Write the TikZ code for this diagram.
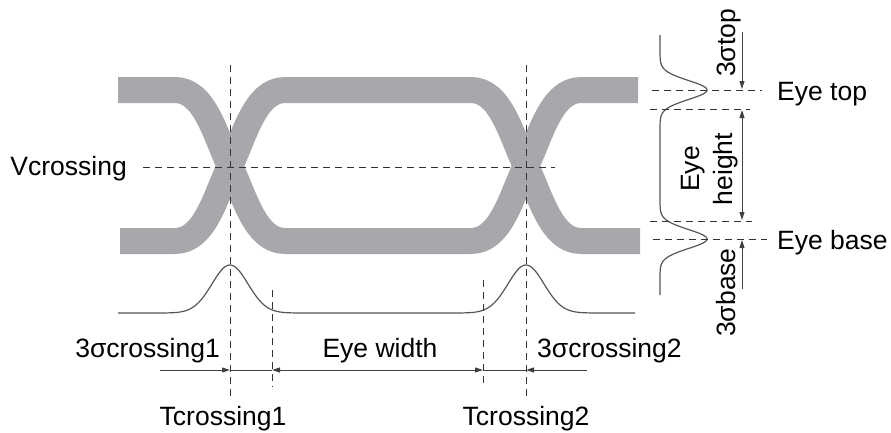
\documentclass[tikz,border=0pt]{standalone}
\usepackage{fontspec}
\setmainfont{Liberation Sans}
\usetikzlibrary{arrows.meta}
\definecolor{bandgray}{HTML}{A7A8AB}
\definecolor{curvegray}{HTML}{555555}
\definecolor{dimgray}{HTML}{404040}
\begin{document}
\begin{tikzpicture}[x=1pt,y=-1pt,
  band/.style={line width=26pt, draw=bandgray, line join=round},
  dist/.style={line width=1.2pt, draw=curvegray},
  dsh/.style={dash pattern=on 7pt off 5pt, line width=1pt, draw=black!80},
  dimline/.style={line width=1pt, draw=dimgray},
  dimarrow/.style={dimline, -{Triangle[length=8pt,width=5pt]}},
  dimboth/.style={dimline, {Triangle[length=8pt,width=5pt]}-{Triangle[length=8pt,width=5pt]}},
  lbl/.style={font=\fontsize{26.5}{33}\selectfont, inner sep=0pt, text=black},
]
\useasboundingbox (0,0) rectangle (891,432);

% gray eye bands
\draw[band] (118,90) -- (175,90) .. controls (205,90) and (215,135) .. (230,166)
  .. controls (245,197) and (255,241) .. (285,241) -- (471,241)
  .. controls (501,241) and (511,197) .. (526,166)
  .. controls (541,135) and (551,90) .. (581,90) -- (638,90);
\draw[band] (120,241) -- (175,241) .. controls (205,241) and (215,197) .. (230,166)
  .. controls (245,135) and (255,90) .. (285,90) -- (471,90)
  .. controls (501,90) and (511,135) .. (526,166)
  .. controls (541,197) and (551,241) .. (581,241) -- (640,241);

% bottom jitter distribution
\draw[dist] (118,313) -- (165,313)
  -- plot[domain=165:295, samples=120] (\x, {313-48*exp(-((\x-230)/18)*((\x-230)/18)/2)})
  -- (461,313)
  -- plot[domain=461:591, samples=120] (\x, {313-48*exp(-((\x-526)/18)*((\x-526)/18)/2)})
  -- (635,313);

% right amplitude distribution
\draw[dist] (660,35) -- (660,45)
  -- plot[domain=45:135, samples=100] ({660+47*exp(-((\x-90)/9.5)*((\x-90)/9.5)/2)}, \x)
  -- (660,194)
  -- plot[domain=194:284, samples=100] ({660+47*exp(-((\x-239)/9.5)*((\x-239)/9.5)/2)}, \x)
  -- (660,295);

% labels
\node[lbl, anchor=base east] (vc) at (127,175) {Vcrossing};
\node[lbl, anchor=base east] (sc1) at (220,357) {3σcrossing1};
\node[lbl, anchor=base] (ew) at (380,357) {Eye width};
\node[lbl, anchor=base west] (sc2) at (537,357) {3σcrossing2};
\node[lbl, anchor=base] (tc1) at (223,425) {Tcrossing1};
\node[lbl, anchor=base] (tc2) at (526,425) {Tcrossing2};
\node[lbl, anchor=base west] (etop) at (777,100) {Eye top};
\node[lbl, anchor=base west] (ebase) at (777,249) {Eye base};
\node[lbl, rotate=90, anchor=base west] (stop) at (735,77) {3σtop};
\node[lbl, rotate=90, anchor=base west] (sbase) at (735,337) {3σbase};
\node[lbl, rotate=90, align=center] (eh) at (710,169) {Eye\\height};

% coordinates
\coordinate (c1top) at (230,65);
\coordinate (c1bot) at (230,400);
\coordinate (c2top) at (526,65);
\coordinate (c2bot) at (526,400);
\coordinate (vl) at (143,167);
\coordinate (vr) at (555,167);
\coordinate (w1top) at (272,290);
\coordinate (w1bot) at (272,387);
\coordinate (w2top) at (483,280);
\coordinate (w2bot) at (483,387);
\coordinate (ettl) at (652,90);
\coordinate (ettr) at (762,90);
\coordinate (ehtl) at (650,109);
\coordinate (ehtr) at (750,109);
\coordinate (ehbl) at (650,221);
\coordinate (ehbr) at (752,221);
\coordinate (ebl) at (653,239);
\coordinate (ebr) at (767,239);

% dashed lines
\draw[dsh] (c1top) -- (c1bot);
\draw[dsh] (c2top) -- (c2bot);
\draw[dsh] (vl) -- (vr);
\draw[dsh] (w1top) -- (w1bot);
\draw[dsh] (w2top) -- (w2bot);
\draw[dsh] (ettl) -- (ettr);
\draw[dsh] (ehtl) -- (ehtr);
\draw[dsh] (ehbl) -- (ehbr);
\draw[dsh] (ebl) -- (ebr);

% horizontal dimension arrows
\coordinate (a1s) at (160,370);
\coordinate (a1e) at (230,370);
\coordinate (wl) at (272,370);
\coordinate (wr) at (483,370);
\coordinate (a2e) at (526,370);
\coordinate (a2s) at (587,370);
\draw[dimarrow] (a1s) -- (a1e);
\draw[dimline] (a1e) -- (wl);
\draw[dimboth] (wl) -- (wr);
\draw[dimline] (wr) -- (a2e);
\draw[dimarrow] (a2s) -- (a2e);

% vertical dimension arrows
\coordinate (vt1) at (742,32);
\coordinate (vt2) at (742,89);
\coordinate (vh1) at (742,110);
\coordinate (vh2) at (742,220);
\coordinate (vb1) at (742,289);
\coordinate (vb2) at (742,240);
\draw[dimarrow] (vt1) -- (vt2);
\draw[dimboth] (vh1) -- (vh2);
\draw[dimarrow] (vb1) -- (vb2);
\end{tikzpicture}
\end{document}
